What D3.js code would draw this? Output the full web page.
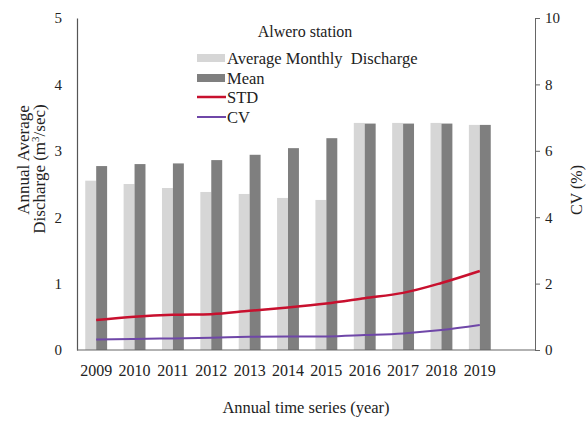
<!DOCTYPE html>
<html>
<head>
<meta charset="utf-8">
<script src="https://cdn.jsdelivr.net/npm/d3@7"></script>
<style>
  html, body { margin: 0; padding: 0; background: #fff; }
  svg { display: block; }
  text { font-family: "Liberation Serif", "Times New Roman", serif; fill: #222; }
</style>
</head>
<body>
<svg id="chart" width="587" height="423"></svg>
<script>
const years = ["2009","2010","2011","2012","2013","2014","2015","2016","2017","2018","2019"];
const avgMonthly = [2.55, 2.50, 2.44, 2.38, 2.35, 2.29, 2.26, 3.42, 3.42, 3.42, 3.39];
const meanVals   = [2.77, 2.80, 2.81, 2.86, 2.94, 3.04, 3.19, 3.41, 3.41, 3.41, 3.39];
const stdVals    = [0.45, 0.50, 0.53, 0.54, 0.59, 0.64, 0.70, 0.78, 0.86, 1.01, 1.19];
const cvVals     = [0.32, 0.33, 0.35, 0.37, 0.40, 0.41, 0.41, 0.45, 0.50, 0.60, 0.75];
const leftTicks  = [0, 1, 2, 3, 4, 5];
const rightTicks = [0, 2, 4, 6, 8, 10];
const legendItems = ["Average Monthly  Discharge", "Mean", "STD", "CV"];

const svg = d3.select("#chart");
const plotLeft = 77, plotRight = 535, plotTop = 18, plotBottom = 350;
const catRight = 499;

const x = d3.scaleBand().domain(years).range([plotLeft, catRight])
  .paddingInner(0.43).paddingOuter(0.215);
const yL = d3.scaleLinear().domain([0, 5]).range([plotBottom, plotTop]);
const yR = d3.scaleLinear().domain([0, 10]).range([plotBottom, plotTop]);

const lightCol = "#d6d6d6", darkCol = "#7f7f7f", redCol = "#c8102e", purpCol = "#6f47a8";
const bw = x.bandwidth() / 2;
const FONT = "Liberation Serif";

// bars
svg.append("g").selectAll("rect").data(years).join("rect")
  .attr("x", d => x(d)).attr("width", bw)
  .attr("y", (d, i) => yL(avgMonthly[i]))
  .attr("height", (d, i) => plotBottom - yL(avgMonthly[i]))
  .attr("fill", lightCol);
svg.append("g").selectAll("rect").data(years).join("rect")
  .attr("x", d => x(d) + bw).attr("width", bw)
  .attr("y", (d, i) => yL(meanVals[i]))
  .attr("height", (d, i) => plotBottom - yL(meanVals[i]))
  .attr("fill", darkCol);

// lines
const cx = d => x(d) + x.bandwidth() / 2;
const stdLine = d3.line().x((d, i) => cx(years[i])).y(d => yL(d)).curve(d3.curveMonotoneX);
const cvLine = d3.line().x((d, i) => cx(years[i])).y(d => yR(d)).curve(d3.curveMonotoneX);
svg.append("path").attr("d", stdLine(stdVals)).attr("fill", "none")
  .attr("stroke", redCol).attr("stroke-width", 2.5);
svg.append("path").attr("d", cvLine(cvVals)).attr("fill", "none")
  .attr("stroke", purpCol).attr("stroke-width", 2);

// axes
const leftAxis = d3.axisLeft(yL).tickValues(leftTicks).tickFormat(d3.format("d")).tickSize(0).tickPadding(15);
const gL = svg.append("g").attr("transform", `translate(${plotLeft},0)`).call(leftAxis);
gL.select(".domain").attr("stroke", "#555").attr("stroke-width", 1.2);
gL.selectAll("text").style("font-size", "15px").style("font-family", FONT).attr("fill", "#222");

const rightAxis = d3.axisRight(yR).tickValues(rightTicks).tickSize(5).tickPadding(5);
const gR = svg.append("g").attr("transform", `translate(${plotRight},0)`).call(rightAxis);
gR.select(".domain").attr("stroke", "#666").attr("stroke-width", 1);
gR.selectAll(".tick line").attr("stroke", "#666");
gR.selectAll("text").style("font-size", "15px").style("font-family", FONT).attr("fill", "#222");

svg.append("line").attr("x1", plotLeft).attr("x2", plotRight)
  .attr("y1", plotBottom).attr("y2", plotBottom).attr("stroke", "#666").attr("stroke-width", 1.2);

const bottomAxis = d3.axisBottom(x).tickSize(0).tickPadding(15);
const gB = svg.append("g").attr("transform", `translate(0,${plotBottom})`).call(bottomAxis);
gB.select(".domain").remove();
gB.selectAll("text").style("font-size", "16px").style("font-family", FONT).attr("fill", "#222");

// axis titles
svg.append("text").attr("transform", "translate(29,160) rotate(-90)")
  .attr("text-anchor", "middle").style("font-size", "17px").text("Annual Average");
const t2 = svg.append("text").attr("transform", "translate(45,169) rotate(-90)")
  .attr("text-anchor", "middle").style("font-size", "17px");
t2.append("tspan").text("Discharge (m");
t2.append("tspan").attr("dy", -6).style("font-size", "11px").text("3");
t2.append("tspan").attr("dy", 6).text("/sec)");

svg.append("text").attr("transform", "translate(582,190) rotate(-90)")
  .attr("text-anchor", "middle").style("font-size", "16px").text("CV (%)");

svg.append("text").attr("x", 306).attr("y", 413).attr("text-anchor", "middle")
  .style("font-size", "16.5px").text("Annual time series (year)");

// legend
svg.append("text").attr("x", 305).attr("y", 37).attr("text-anchor", "middle")
  .style("font-size", "16px").text("Alwero station");
const lg = svg.append("g");
const ly = [58, 78, 97, 117];
lg.append("rect").attr("x", 197).attr("y", ly[0] - 4).attr("width", 28).attr("height", 8).attr("fill", lightCol);
lg.append("rect").attr("x", 197).attr("y", ly[1] - 4).attr("width", 28).attr("height", 8).attr("fill", darkCol);
lg.append("line").attr("x1", 197).attr("x2", 226).attr("y1", ly[2]).attr("y2", ly[2]).attr("stroke", redCol).attr("stroke-width", 2.5);
lg.append("line").attr("x1", 197).attr("x2", 226).attr("y1", ly[3]).attr("y2", ly[3]).attr("stroke", purpCol).attr("stroke-width", 2);
lg.selectAll("text.li").data(legendItems).join("text").attr("class", "li")
  .attr("x", 227).attr("y", (d, i) => ly[i] + 6)
  .style("font-size", "16.5px").style("white-space", "pre").attr("xml:space", "preserve")
  .text(d => d);
</script>
</body>
</html>
